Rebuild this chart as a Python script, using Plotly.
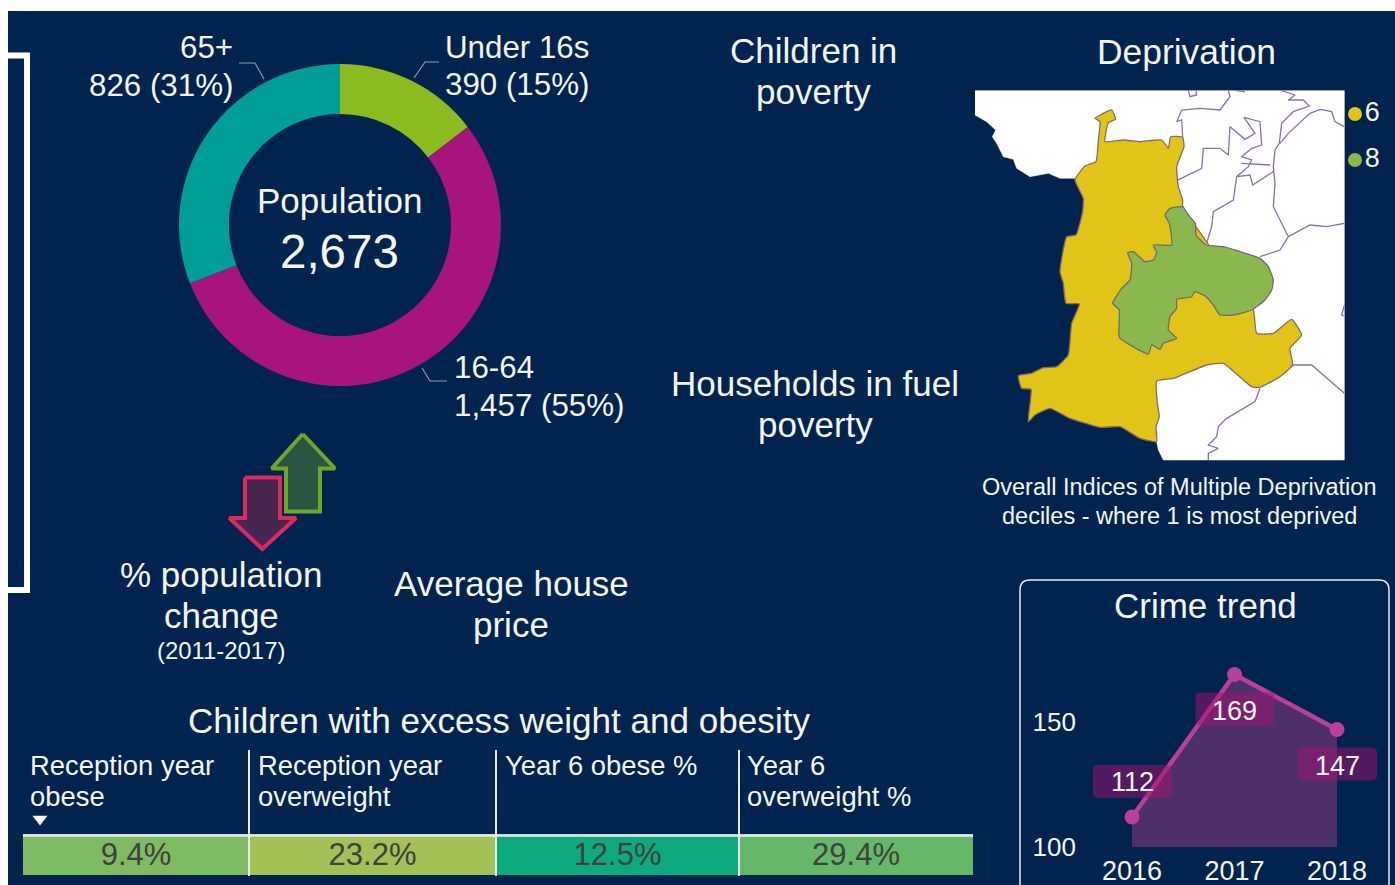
import plotly.graph_objects as go

W, H = 1395, 885
NAVY = "#00244D"
TXT = "#F2F4F6"

# ---------- data ----------
pop_labels = ["Under 16s", "16-64", "65+"]
pop_values = [390, 1457, 826]
pop_colors = ["#8CBB20", "#A6147C", "#009E96"]

crime_years = [2016, 2017, 2018]
crime_values = [112, 169, 147]
crime_label_above = [True, False, False]

weight_header_lines = [["Reception year", "obese"], ["Reception year", "overweight"], ["Year 6 obese %"], ["Year 6", "overweight %"]]
weight_values = ["9.4%", "23.2%", "12.5%", "29.4%"]
weight_colors = ["#7FBB63", "#A2C257", "#0FA97F", "#66B768"]
weight_widths = [226, 247, 243, 234]

decile_labels = ["6", "8"]
decile_colors = ["#E0C418", "#8BB84E"]

# map outlines, in map units
map_land_x = [45, 1153, 1153, 610, 595, 590, 500, 345, 300, 265, 210, 170, 160, 130, 110, 97, 107, 80, 45]
map_land_y = [32, 32, 1140, 1140, 1110, 1085, 500, 295, 295, 280, 290, 265, 238, 230, 190, 170, 150, 125, 105]
map_yellow_x = [405, 455, 467, 445, 435, 490, 540, 605, 625, 632, 668, 672, 650, 655, 668, 668, 880, 890, 940, 995, 1025, 990, 998, 960, 900, 875, 790, 740, 640, 590, 592, 598, 588, 590, 540, 480, 420, 330, 270, 225, 205, 213, 185, 175, 215, 250, 290, 325, 335, 358, 318, 310, 300, 320, 348, 368, 370, 345, 375, 408, 415, 420, 405]
map_yellow_y = [115, 90, 118, 128, 185, 180, 185, 180, 205, 170, 172, 200, 260, 320, 360, 380, 690, 760, 760, 718, 765, 805, 855, 890, 922, 920, 850, 855, 895, 903, 970, 1010, 1040, 1085, 1075, 1040, 1042, 1015, 985, 1005, 1025, 928, 925, 887, 880, 863, 860, 825, 730, 672, 670, 610, 575, 470, 465, 395, 355, 300, 258, 245, 180, 125, 115]
map_green_x = [615, 630, 668, 685, 706, 708, 738, 790, 850, 900, 925, 940, 935, 915, 875, 820, 780, 760, 735, 705, 695, 650, 650, 630, 625, 650, 610, 600, 575, 565, 478, 478, 458, 485, 510, 515, 503, 520, 555, 580, 590, 580, 635, 628, 615]
map_green_y = [405, 385, 380, 405, 430, 465, 495, 500, 518, 535, 560, 600, 630, 660, 690, 705, 705, 675, 648, 635, 650, 658, 685, 710, 750, 775, 790, 808, 795, 822, 772, 690, 670, 625, 600, 550, 518, 515, 545, 540, 518, 495, 495, 430, 405]
map_borders = [
    ([668, 665, 650, 665, 720, 780, 810, 805], [172, 120, 125, 90, 85, 90, 50, 32]),
    ([685, 690, 710, 708], [32, 50, 45, 32]),
    ([965, 1005, 985, 1030, 1048, 1000, 965, 958, 945, 940, 945, 940, 965, 985, 960, 900], [32, 45, 60, 60, 78, 95, 130, 190, 210, 260, 310, 380, 430, 470, 510, 530]),
    ([985, 1050, 1100, 1153], [470, 435, 440, 430]),
    ([960, 985, 1050, 1080, 1115, 1125, 1153], [190, 160, 100, 88, 95, 125, 140]),
    ([650, 725, 730, 780, 805, 810, 855, 885, 852, 900, 905, 875, 845, 875, 865, 830, 820, 760, 755, 738], [302, 265, 205, 205, 225, 140, 178, 160, 112, 125, 195, 205, 230, 240, 260, 290, 360, 395, 440, 495]),
    ([830, 870, 878, 900, 940], [290, 285, 315, 300, 275]),
    ([845, 930], [250, 255]),
    ([998, 1055, 1153], [855, 855, 940]),
    ([900, 885, 800, 775, 770, 745, 775, 745, 745], [925, 965, 1015, 1040, 1070, 1095, 1105, 1120, 1140]),
    ([1153, 1145, 1153], [675, 705, 708]),
    ([830, 855], [32, 35]),
]

# arrows
up_x = [302.7, 335, 320, 320, 286, 286, 271.7, 302.7]
up_y = [434, 468.5, 468.5, 511.5, 511.5, 468.5, 468.5, 434]
down_x = [245, 280, 280, 296, 262.3, 229.3, 245, 245]
down_y = [477.5, 477.5, 518, 518, 549, 518, 518, 477.5]

fig = go.Figure()


def page_trace(**kw):
    fig.add_trace(go.Scatter(xaxis="x", yaxis="y", showlegend=False, hoverinfo="skip", **kw))


# arrows
page_trace(x=up_x, y=up_y, mode="lines", fill="toself", fillcolor="#2A5540", line=dict(color="#6FA52B", width=4))
page_trace(x=down_x, y=down_y, mode="lines", fill="toself", fillcolor="#47264F", line=dict(color="#D92B60", width=4))
# deprivation key
page_trace(x=[1355, 1355], y=[114, 160], mode="markers+text", text=decile_labels, textposition="middle right",
           marker=dict(size=14, color=decile_colors), textfont=dict(family="Liberation Sans", size=27, color=TXT))
# triangle under sorted column
page_trace(x=[40], y=[819], mode="markers", marker=dict(symbol="triangle-down", size=13, color="white"))


def map_trace(x, y, fill=None, lc="#8E6FA3", lw=1.3, smooth=False):
    line = dict(color=lc, width=lw)
    if smooth:
        line.update(shape="spline", smoothing=0.4)
    fig.add_trace(go.Scatter(x=x, y=y, xaxis="x2", yaxis="y2", mode="lines", showlegend=False, hoverinfo="skip",
                             fill="toself" if fill else None, fillcolor=fill, line=line))


map_trace(map_land_x, map_land_y, fill="white", lc="white", lw=0.5)
for bx, by in map_borders:
    map_trace(bx, by)
map_trace(map_yellow_x, map_yellow_y, fill=decile_colors[0], lc="#8A6A60", lw=1.3, smooth=True)
map_trace(map_green_x, map_green_y, fill=decile_colors[1], lc="#6F6A70", lw=1.3, smooth=True)

# crime
fig.add_trace(go.Scatter(x=crime_years, y=crime_values, xaxis="x3", yaxis="y3", mode="lines+markers", showlegend=False,
                         fill="tozeroy", fillcolor="#4D3068", line=dict(color="#B8409A", width=4.5),
                         marker=dict(size=15, color="#B8409A")))

# population donut
fig.add_trace(go.Pie(labels=pop_labels, values=pop_values, hole=0.69, sort=False, direction="clockwise", rotation=0,
                     marker=dict(colors=pop_colors, line=dict(width=0)), textinfo="none", showlegend=False,
                     domain=dict(x=[179 / W, 501 / W], y=[(H - 386) / H, (H - 64) / H])))

# weight table (value row); its empty header strip is transparent and sits above the row
fig.add_trace(go.Table(
    domain=dict(x=[23 / W, 973 / W], y=[(H - 880) / H, (H - 818) / H]),
    columnwidth=weight_widths,
    header=dict(values=[], height=18, fill_color="rgba(0,0,0,0)", line=dict(width=0, color="rgba(0,0,0,0)")),
    cells=dict(values=[[v] for v in weight_values], height=41, align="center",
               fill_color=[[c] for c in weight_colors], line=dict(width=0, color="rgba(0,0,0,0)"),
               font=dict(family="Liberation Sans", size=31, color="#404040")),
))

shapes = [
    dict(type="rect", xref="paper", yref="paper", x0=8 / W, x1=1, y0=0, y1=(H - 11) / H, fillcolor=NAVY, line_width=0, layer="below"),
    # left bracket
    dict(type="path", xref="x", yref="y", path="M 8 55.5 L 27 55.5 L 27 590 L 8 590", line=dict(color="white", width=6)),
    # crime frame
    dict(type="path", xref="x", yref="y", path="M 1020 900 L 1020 590 Q 1020 580 1030 580 L 1379 580 Q 1389 580 1389 590 L 1389 900",
         line=dict(color="#E6EAEE", width=1.5)),
]
# donut callouts
for p in ["M 239 63 L 255 63 L 264 79", "M 439 62 L 425 62 L 414 78", "M 422 368 L 430 381 L 447 381"]:
    shapes.append(dict(type="path", xref="x", yref="y", path=p, line=dict(color="#8A9AAE", width=1.2)))
# table rules
for xv in [249, 496, 739]:
    shapes.append(dict(type="line", xref="x", yref="y", x0=xv, x1=xv, y0=750, y1=876, line=dict(color="#E6EAEE", width=2)))
shapes.append(dict(type="line", xref="x", yref="y", x0=23, x1=973, y0=835.5, y1=835.5, line=dict(color="#E6EAEE", width=2.5)))
# crime label plates, sized in pixels and anchored to the points
for yr, val, above in zip(crime_years, crime_values, crime_label_above):
    l, r, t, b, q = -39, 40, (52 if above else -18), (19 if above else -51), 5
    shapes.append(dict(type="path", xref="x3", yref="y3", xsizemode="pixel", ysizemode="pixel", xanchor=yr, yanchor=val,
                       path=f"M {l+q} {t} L {r-q} {t} Q {r} {t} {r} {t-q} L {r} {b+q} Q {r} {b} {r-q} {b} L {l+q} {b} Q {l} {b} {l} {b+q} L {l} {t-q} Q {l} {t} {l+q} {t} Z",
                       fillcolor="rgba(165,15,115,0.5)", line_width=0))

ann = []


def text(x, y, s, size=35, anchor="center"):
    ann.append(dict(xref="x", yref="y", x=x, y=y, text=s, showarrow=False, xanchor=anchor, yanchor="middle",
                    font=dict(family="Liberation Sans", size=size, color=TXT)))


def lines(x, ys, strings, size=35, anchor="center"):
    for y, s in zip(ys, strings):
        text(x, y, s, size, anchor)


lines(235, [47, 85], ["65+", "826 (31%)"], 31.3, "right")
lines(443, [47, 84], ["Under 16s", "390 (15%)"], 31.3, "left")
lines(452, [367, 405], ["16-64", "1,457 (55%)"], 31.3, "left")
text(339, 200, "Population", 35)
text(339, 251, f"{sum(pop_values):,}", 47.5)
lines(813, [50, 91], ["Children in", "poverty"])
lines(815, [383, 424], ["Households in fuel", "poverty"])
text(1186, 52, "Deprivation", 35.4)
lines(221, [574, 615], ["% population", "change"])
text(221, 650, "(2011-2017)", 23.9)
lines(511, [583, 624], ["Average house", "price"])
lines(1179, [487, 516], ["Overall Indices of Multiple Deprivation", "deciles - where 1 is most deprived"], 23.5)
text(1205, 605, "Crime trend", 35)
text(499, 720, "Children with excess weight and obesity", 35.1)
for hx, hl in zip([28, 256, 503, 745], weight_header_lines):
    lines(hx, [765, 796], hl, 27.4, "left")
for yr, val, above in zip(crime_years, crime_values, crime_label_above):
    ann.append(dict(xref="x3", yref="y3", x=yr, y=val, yshift=35.5 if above else -36, text=str(val), showarrow=False,
                    font=dict(family="Liberation Sans", size=27, color=TXT)))

hidden = dict(visible=False, showgrid=False, zeroline=False, fixedrange=True)
px_per_year = 102.5
x3_left = 1077
fig.update_layout(
    width=W, height=H, autosize=False, margin=dict(l=0, r=0, t=0, b=0, autoexpand=False),
    paper_bgcolor="white", plot_bgcolor="rgba(0,0,0,0)",
    shapes=shapes, annotations=ann,
    xaxis=dict(hidden, domain=[0, 1], range=[0, W]),
    yaxis=dict(hidden, domain=[0, 1], range=[H, 0]),
    xaxis2=dict(hidden, domain=[960 / W, 1], range=[0, 1305], anchor="y2"),
    yaxis2=dict(hidden, domain=[0, (H - 80) / H], range=[1170 + (885 - 470) * 3, 0], anchor="x2"),
    xaxis3=dict(domain=[x3_left / W, 1388 / W], range=[2016 - (1132 - x3_left) / px_per_year, 2016 + 256 / px_per_year], anchor="y3",
                tickvals=crime_years, ticks="", showgrid=False, zeroline=False, showline=False, fixedrange=True,
                ticklabelstandoff=5, tickfont=dict(family="Liberation Sans", size=27, color=TXT)),
    yaxis3=dict(domain=[(H - 847) / H, (H - 640) / H], range=[100, 182.8], anchor="x3",
                tickvals=[100, 150], ticks="", showgrid=False, zeroline=False, showline=False, fixedrange=True,
                tickfont=dict(family="Liberation Sans", size=26, color=TXT)),
)

fig.write_html("out.html", config=dict(displayModeBar=False),
               post_script="document.body.style.margin='0';document.body.style.overflow='hidden';")
